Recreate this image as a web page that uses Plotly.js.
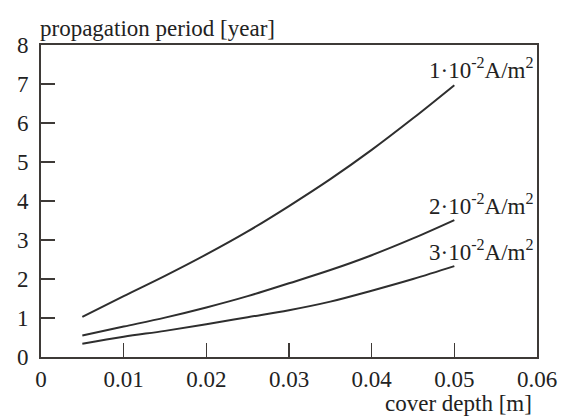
<!DOCTYPE html>
<html>
<head>
<meta charset="utf-8">
<script src="https://cdn.plot.ly/plotly-3.0.1.min.js"></script>
<style>html,body{margin:0;padding:0;background:#fff}#chart{width:573px;height:416px}</style>
</head>
<body>
<div id="chart"></div>
<script>
const coverDepth = [0.005, 0.01, 0.015, 0.02, 0.025, 0.03, 0.035, 0.04, 0.045, 0.05];
const period1 = [1.03, 1.56, 2.08, 2.63, 3.22, 3.87, 4.56, 5.31, 6.12, 6.97];
const period2 = [0.55, 0.78, 1.01, 1.27, 1.56, 1.89, 2.23, 2.61, 3.04, 3.51];
const period3 = [0.34, 0.52, 0.67, 0.84, 1.02, 1.20, 1.42, 1.70, 2.00, 2.33];
const seriesLabels = ['1·10<sup>-2</sup>A/m<sup>2</sup>', '2·10<sup>-2</sup>A/m<sup>2</sup>', '3·10<sup>-2</sup>A/m<sup>2</sup>'];
const xTickVals = [0, 0.01, 0.02, 0.03, 0.04, 0.05, 0.06];
const xTickText = ['0', '0.01', '0.02', '0.03', '0.04', '0.05', '0.06'];
const yTickVals = [0, 1, 2, 3, 4, 5, 6, 7, 8];

const serif = 'Liberation Serif, Times New Roman, serif';
const lineStyle = {color: '#2e2e2e', width: 2, shape: 'spline'};
const allSeries = [period1, period2, period3];
const traces = allSeries.map((p, i) => ({
  x: coverDepth, y: p, mode: 'lines', line: lineStyle, name: seriesLabels[i], hoverinfo: 'skip'
}));

const labelY = [7.4, 3.9, 2.72];
const annotations = allSeries.map((p, i) => ({
  x: 0.0599, y: labelY[i], xref: 'x', yref: 'y', xanchor: 'right', yanchor: 'middle',
  text: seriesLabels[i], showarrow: false, font: {family: serif, size: 23, color: '#222'}
}));
annotations.push({
  x: 0, y: 1, xref: 'paper', yref: 'paper', xanchor: 'left', yanchor: 'bottom', yshift: 2, xshift: -3,
  text: 'propagation period [year]', showarrow: false, font: {family: serif, size: 23, color: '#222'}
});
annotations.push({
  x: 1, y: 0, xref: 'paper', yref: 'paper', xanchor: 'right', yanchor: 'top', yshift: -32, xshift: -3,
  text: 'cover depth [m]', showarrow: false, font: {family: serif, size: 23, color: '#222'}
});

const axisCommon = {
  showgrid: false, zeroline: false, showline: true, linecolor: '#3e3a37', linewidth: 2,
  mirror: true, ticks: 'inside', ticklen: 14, tickwidth: 1.5, tickcolor: '#3e3a37',
  tickfont: {family: serif, size: 23, color: '#222'}, fixedrange: true
};

const layout = {
  width: 573, height: 416,
  margin: {l: 41, r: 36, t: 45, b: 59},
  paper_bgcolor: '#fff', plot_bgcolor: '#fff',
  showlegend: false,
  xaxis: Object.assign({}, axisCommon, {range: [0, 0.06], tickvals: xTickVals, ticktext: xTickText, ticklabelstandoff: 0}),
  yaxis: Object.assign({}, axisCommon, {range: [0, 8], tickvals: yTickVals, ticklabelstandoff: 6}),
  annotations: annotations
};

Plotly.newPlot('chart', traces, layout, {staticPlot: true, displayModeBar: false});
</script>
</body>
</html>
